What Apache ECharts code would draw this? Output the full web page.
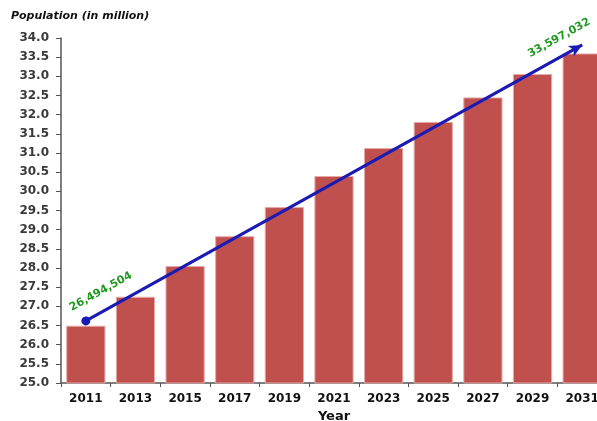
<!DOCTYPE html>
<html>
<head>
<meta charset="utf-8">
<script src="https://cdn.jsdelivr.net/npm/echarts@6/dist/echarts.min.js"></script>
<style>
  html, body { margin: 0; padding: 0; background: #fff; overflow: hidden; }
  /* the last bar runs a little past the right edge of the view */
  #chart { width: 607px; height: 421px; }
</style>
</head>
<body>
<div id="chart"></div>
<script>
// Population in million, every second year
const years = ['2011', '2013', '2015', '2017', '2019', '2021', '2023', '2025', '2027', '2029', '2031'];
const population = [26.494504, 27.25, 28.05, 28.83, 29.59, 30.40, 31.13, 31.81, 32.45, 33.06, 33.597032];

// Trend arrow end points (category, value)
const trendStart = ['2011', 26.62];
const trendEnd = ['2031', 33.82];

const FONT = 'DejaVu Sans';
const LABEL_ANGLE = 29;

function fmtPeople(v) {
  return Math.round(v * 1e6).toLocaleString('en-US');
}

// Label offsets are applied in the rotated text frame; convert a screen shift into that frame.
function rotatedOffset(dx, dy, deg) {
  const t = deg * Math.PI / 180, c = Math.cos(t), s = Math.sin(t);
  return [dx * c - dy * s, dx * s + dy * c];
}

const chart = echarts.init(document.getElementById('chart'), null, { renderer: 'canvas' });

chart.setOption({
  animation: false,
  backgroundColor: '#ffffff',
  grid: { left: 61, right: 0, top: 38, bottom: 38, containLabel: false, outerBoundsMode: 'none' },
  title: {
    text: 'Population (in million)',
    left: 11, top: 11, padding: 0,
    textStyle: { fontFamily: FONT, fontSize: 11, fontWeight: 'bold', fontStyle: 'italic', color: '#111' }
  },
  xAxis: {
    type: 'category',
    data: years,
    name: 'Year',
    nameLocation: 'middle',
    nameGap: 26,
    nameTextStyle: { fontFamily: FONT, fontSize: 13, fontWeight: 'bold', color: '#111' },
    axisLine: { lineStyle: { color: '#555', width: 1.5 } },
    axisTick: { show: true, length: 4, lineStyle: { color: '#555' } },
    axisLabel: { fontFamily: FONT, fontSize: 12, fontWeight: 'bold', color: '#111', margin: 10 }
  },
  yAxis: {
    type: 'value',
    min: 25, max: 34, interval: 0.5,
    splitLine: { show: false },
    axisLine: { show: true, lineStyle: { color: '#555', width: 1.5 } },
    axisTick: { show: true, length: 5, lineStyle: { color: '#555' } },
    axisLabel: {
      fontFamily: FONT, fontSize: 12, fontWeight: 'bold', color: '#3a3a3a', margin: 12,
      formatter: v => v.toFixed(1)
    }
  },
  series: [{
    type: 'bar',
    data: population,
    barCategoryGap: '21%',
    itemStyle: { color: '#C0504D', borderColor: '#e6a9a7', borderWidth: 1 },
    markLine: {
      silent: true,
      symbol: ['circle', 'arrow'],
      symbolSize: [9, 13],
      lineStyle: { color: '#1a1ab4', width: 3, type: 'solid' },
      label: { show: false },
      data: [[
        { coord: trendStart, itemStyle: { color: '#1a1ab4' } },
        { coord: trendEnd, itemStyle: { color: '#1a1ab4' } }
      ]]
    },
    markPoint: {
      silent: true,
      symbol: 'circle',
      symbolSize: 0,
      label: {
        show: true,
        rotate: LABEL_ANGLE,
        fontFamily: FONT, fontSize: 11, fontWeight: 'bold', color: '#1f9a1f'
      },
      data: [
        { coord: ['2011', population[0]], value: population[0],
          label: { formatter: fmtPeople(population[0]), offset: rotatedOffset(15, -34, LABEL_ANGLE) } },
        { coord: ['2031', population[10]], value: population[10],
          label: { formatter: fmtPeople(population[10]), offset: rotatedOffset(-23, -15.5, LABEL_ANGLE) } }
      ]
    }
  }]
});
</script>
</body>
</html>
